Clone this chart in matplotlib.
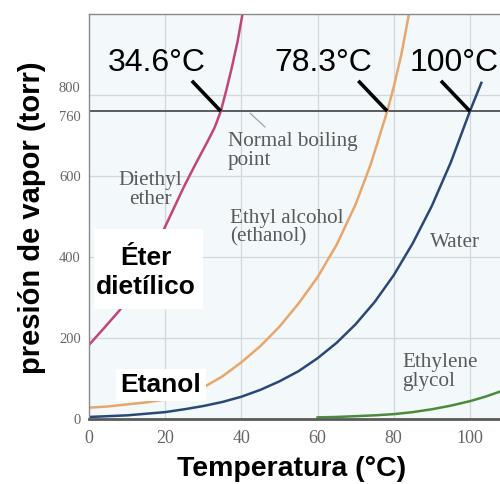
"""
Vapor pressure curves (diethyl ether, ethanol, water, ethylene glycol)
with the normal boiling points marked on the 760 torr line.
"""

# Imports - general
import matplotlib
matplotlib.use("Agg")
import matplotlib.pyplot as plt
from matplotlib.patches import Rectangle

# data (temperature in C, pressure in torr)
ether_t = [0, 4, 8, 11, 14, 17, 19.5, 22, 25, 28, 31, 33, 34.6, 36, 37.5,
           39, 40.3]
ether_p = [183, 225, 268, 310, 358, 410, 465, 515, 575, 630, 683, 720, 760,
           810, 868, 932, 1000]
ethanol_t = [0, 5, 10, 15, 20, 25, 30, 35, 40, 45, 50, 55, 60, 65, 70, 74,
             78.3, 80, 82, 84]
ethanol_p = [28, 31, 36, 41, 48, 60, 78, 105, 140, 180, 228, 285, 350, 430,
             530, 630, 760, 820, 900, 1000]
water_t = [0, 10, 20, 25, 30, 35, 40, 45, 50, 55, 60, 65, 70, 75, 80, 85,
           90, 95, 100, 103]
water_p = [5, 9, 17, 24, 32, 42, 55, 72, 93, 118, 150, 188, 234, 289, 355,
           434, 526, 634, 760, 830]
glycol_t = [60, 65, 70, 75, 80, 85, 90, 95, 100, 104, 108]
glycol_p = [4, 5, 7, 9, 12, 17, 24, 33, 44, 55, 68]

boil_temps = [34.6, 78.3, 100]
boil_labels = ["34.6°C", "78.3°C", "100°C"]
x_ticks = [0, 20, 40, 60, 80, 100]
y_ticks = [0, 200, 400, 600, 760, 800]

# settings
C_ETHER = "#c2457a"
C_ETHANOL = "#e9a66a"
C_WATER = "#2a4877"
C_GLYCOL = "#4c8a3c"
C_SMALL = "#5a5a5a"


def main():
    fig = plt.figure(figsize=(5.0, 4.84), dpi=100)
    ax = fig.add_axes([0.178, 0.1343, 0.822, 0.8368])
    ax.set_facecolor("#f3f8fb")
    ax.set_xlim(0, 107.9)
    ax.set_ylim(0, 1000)

    # grid
    for x in x_ticks[1:]:
        ax.axvline(x, color="#d3d7db", lw=0.9, zorder=0)
    for y in [200, 400, 600, 800]:
        ax.axhline(y, color="#d3d7db", lw=0.9, zorder=0)
    ax.axhline(760, color="#5a5a5a", lw=1.4, zorder=1)

    # spines
    for side in ["left", "top"]:
        ax.spines[side].set_color("#8a8a8a")
        ax.spines[side].set_linewidth(1.0)
    ax.spines["bottom"].set_color("#5a5a5a")
    ax.spines["bottom"].set_linewidth(2.0)
    ax.spines["right"].set_visible(False)

    # curves
    ax.plot(ether_t, ether_p, color=C_ETHER, lw=1.8, zorder=2)
    ax.plot(ethanol_t, ethanol_p, color=C_ETHANOL, lw=1.8, zorder=2)
    ax.plot(water_t, water_p, color=C_WATER, lw=1.8, zorder=2)
    ax.plot(glycol_t, glycol_p, color=C_GLYCOL, lw=1.8, zorder=2)

    # ticks
    ax.set_xticks(x_ticks)
    ax.set_yticks(y_ticks)
    ax.tick_params(length=0)
    ax.tick_params(axis="x", pad=8, labelsize=13, labelcolor="#666666")
    ax.tick_params(axis="y", pad=6, labelsize=10.5, labelcolor="#666666")
    for lab in ax.get_xticklabels() + ax.get_yticklabels():
        lab.set_fontfamily("Liberation Serif")
    ylabs = ax.get_yticklabels()
    ylabs[4].set_va("top")
    ylabs[5].set_va("bottom")

    # boiling point labels and pointers
    for tb, lab in zip(boil_temps, boil_labels):
        ax.plot([tb - 7.6, tb], [835, 760], color="black", lw=2.6,
                solid_capstyle="butt", zorder=3)
        if tb < 90:
            ax.text(tb - 16.8, 880, lab, ha="center", va="center",
                    fontsize=23, family="Liberation Sans", zorder=4)
        else:
            ax.text(107.6, 880, lab, ha="right", va="center",
                    fontsize=23, family="Liberation Sans", zorder=4)

    # normal boiling point note
    ax.plot([42.3, 46.2], [755, 721], color="#9a9a9a", lw=0.8)
    small = dict(fontsize=15.2, family="Liberation Serif", color=C_SMALL,
                 linespacing=1.0, va="center")
    ax.text(36.5, 662, "Normal boiling\npoint", ha="left", **small)
    ax.text(16, 565, "Diethyl\nether", ha="center", **small)
    ax.text(37, 472, "Ethyl alcohol\n(ethanol)", ha="left", **small)
    ax.text(96, 435, "Water", ha="center", **small)
    ax.text(82.2, 116, "Ethylene\nglycol", ha="left", **small)

    # spanish labels on white boxes
    ax.add_patch(Rectangle((1.2, 272), 28.8, 198, facecolor="white",
                           edgecolor="none", zorder=4))
    big = dict(fontsize=19, family="Liberation Sans", weight="bold",
               color="black", ha="center", va="center", zorder=5)
    ax.text(15, 362, "Éter\ndietílico", linespacing=1.3, **big)
    ax.text(18.9, 84, "Etanol",
            bbox=dict(facecolor="white", edgecolor="none", pad=3), **big)

    # axis labels
    fig.text(0.064, 0.551, "presión de vapor (torr)", rotation=90,
             ha="center", va="center", fontsize=21, weight="bold",
             family="Liberation Sans")
    fig.text(0.583, 0.016, "Temperatura (°C)", ha="center", va="baseline",
             fontsize=20.5, weight="bold", family="Liberation Sans")

    fig.savefig("out.png", dpi=100)
    plt.close("all")


if __name__ == "__main__":
    main()
